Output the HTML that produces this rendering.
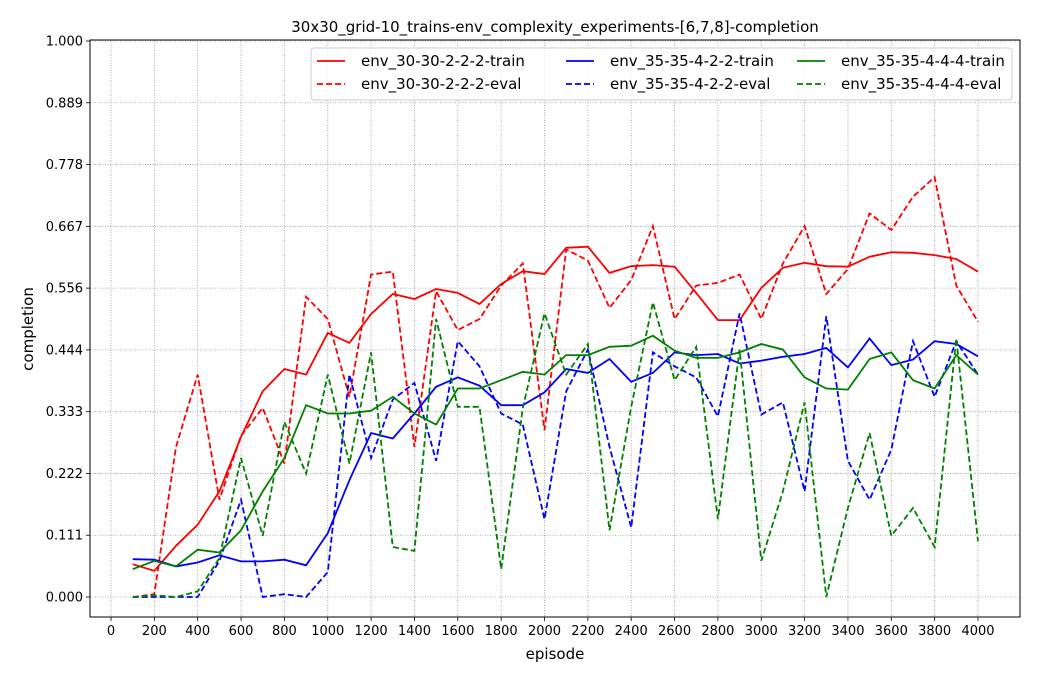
<!DOCTYPE html>
<html><head><meta charset="utf-8"><style>
body{margin:0;background:#fff;font-family:"Liberation Sans","DejaVu Sans",sans-serif}
svg text{font-family:"DejaVu Sans","Liberation Sans",sans-serif}
</style></head><body>
<svg id="chart" width="1040" height="682" xmlns="http://www.w3.org/2000/svg"></svg>
<script>
const episodes=[100,200,300,400,500,600,700,800,900,1000,1100,1200,1300,1400,1500,1600,1700,1800,1900,2000,2100,2200,2300,2400,2500,2600,2700,2800,2900,3000,3100,3200,3300,3400,3500,3600,3700,3800,3900,4000];
const redTrain=[0.059,0.047,0.092,0.13,0.19,0.288,0.37,0.41,0.40,0.475,0.457,0.509,0.545,0.536,0.554,0.547,0.527,0.563,0.586,0.581,0.628,0.63,0.583,0.595,0.597,0.594,0.547,0.498,0.498,0.556,0.592,0.601,0.595,0.594,0.612,0.62,0.619,0.615,0.608,0.585];
const redEval=[0,0.005,0.27,0.40,0.175,0.29,0.34,0.24,0.54,0.50,0.36,0.58,0.585,0.27,0.55,0.48,0.50,0.56,0.60,0.30,0.625,0.605,0.52,0.57,0.667,0.50,0.56,0.565,0.58,0.50,0.60,0.667,0.545,0.59,0.69,0.66,0.72,0.755,0.56,0.495];
const blueTrain=[0.068,0.067,0.055,0.062,0.075,0.064,0.064,0.067,0.057,0.115,0.21,0.295,0.285,0.33,0.378,0.395,0.38,0.345,0.345,0.368,0.41,0.403,0.428,0.387,0.403,0.44,0.435,0.437,0.42,0.425,0.432,0.437,0.448,0.413,0.465,0.417,0.427,0.46,0.455,0.433];
const blueEval=[0,0,0,0,0.065,0.175,0,0.005,0,0.045,0.40,0.25,0.355,0.385,0.245,0.46,0.415,0.33,0.31,0.14,0.37,0.445,0.27,0.125,0.44,0.415,0.395,0.325,0.51,0.328,0.35,0.19,0.505,0.245,0.175,0.265,0.46,0.36,0.46,0.40];
const greenTrain=[0.05,0.065,0.055,0.085,0.08,0.12,0.19,0.25,0.345,0.33,0.33,0.335,0.36,0.33,0.31,0.375,0.375,0.39,0.405,0.40,0.435,0.435,0.45,0.452,0.47,0.443,0.43,0.43,0.44,0.455,0.445,0.395,0.375,0.373,0.428,0.44,0.39,0.375,0.435,0.40];
const greenEval=[0,0.003,0,0.01,0.07,0.25,0.11,0.315,0.222,0.40,0.24,0.44,0.09,0.083,0.50,0.342,0.342,0.05,0.34,0.51,0.40,0.455,0.12,0.342,0.53,0.39,0.45,0.14,0.445,0.065,0.19,0.35,0,0.16,0.295,0.11,0.16,0.09,0.465,0.10];
const xTicks=[0,200,400,600,800,1000,1200,1400,1600,1800,2000,2200,2400,2600,2800,3000,3200,3400,3600,3800,4000];
const yTicks=[0,1/9,2/9,3/9,4/9,5/9,6/9,7/9,8/9,1];
const yTickLabels=["0.000","0.111","0.222","0.333","0.444","0.556","0.667","0.778","0.889","1.000"];
const seriesNames=["env_30-30-2-2-2-train","env_30-30-2-2-2-eval","env_35-35-4-2-2-train","env_35-35-4-2-2-eval","env_35-35-4-4-4-train","env_35-35-4-4-4-eval"];

const svg=document.getElementById('chart');
const NS='http://www.w3.org/2000/svg';
const L=90,R=1020,T=40,B=617;
const xs=v=>111+(v/4000)*(978-111);
const ys=v=>597-v*556;
function mk(tag,attrs,parent){const e=document.createElementNS(NS,tag);for(const k in attrs)e.setAttribute(k,attrs[k]);(parent||svg).appendChild(e);return e;}

const grid=mk('g',{});


xTicks.forEach((t,i)=>{
  mk('line',{x1:xs(t),x2:xs(t),y1:T,y2:B,stroke:'#999','stroke-width':0.8,'stroke-dasharray':'1,1.5'},grid);
  mk('line',{x1:xs(t),x2:xs(t),y1:B,y2:B+4,stroke:'#000','stroke-width':0.8},grid);
  const tx=mk('text',{x:xs(t),y:B+18,'text-anchor':'middle','font-size':13},grid);
  tx.textContent=t;
  
  
});
yTicks.forEach((t,i)=>{
  mk('line',{x1:L,x2:R,y1:ys(t),y2:ys(t),stroke:'#999','stroke-width':0.8,'stroke-dasharray':'1,1.5'},grid);
  mk('line',{x1:L-4,x2:L,y1:ys(t),y2:ys(t),stroke:'#000','stroke-width':0.8},grid);
  const tx=mk('text',{x:L-7,y:ys(t)+4.5,'text-anchor':'end','font-size':13},grid);
  tx.textContent=yTickLabels[i];
  
  
});
const frame=mk('rect',{x:L,y:T,width:R-L,height:B-T,fill:'none',stroke:'#000','stroke-width':1});



const data=[redTrain,redEval,blueTrain,blueEval,greenTrain,greenEval];
const colors=['#ff0000','#ff0000','#0000ff','#0000ff','#008000','#008000'];
data.forEach((arr,si)=>{
  const d=arr.map((v,i)=>(i?'L':'M')+xs(episodes[i]).toFixed(1)+','+ys(v).toFixed(1)).join(' ');
  const p=mk('path',{d:d,fill:'none',stroke:colors[si],'stroke-width':1.8,'stroke-dasharray':si%2?'6,3':'none'});
  
  
});

const title=mk('text',{x:555,y:32,'text-anchor':'middle','font-size':15});
title.textContent='30x30_grid-10_trains-env_complexity_experiments-[6,7,8]-completion';


const xl=mk('text',{x:555,y:659,'text-anchor':'middle','font-size':15});
xl.textContent='episode';


const yl=mk('text',{x:33,y:329,'text-anchor':'middle','font-size':15,transform:'rotate(-90 33 329)'});
yl.textContent='completion';



const leg=mk('g',{});


mk('rect',{x:311,y:48,width:701,height:52,rx:3,fill:'#fff','fill-opacity':0.8,stroke:'#ccc'},leg);
const colX=[317,566,797];
seriesNames.forEach((n,si)=>{
  const c=Math.floor(si/2),r=si%2;
  const y=61+r*23;
  const ln=mk('line',{x1:colX[c],x2:colX[c]+28,y1:y,y2:y,stroke:colors[si],'stroke-width':1.8,'stroke-dasharray':r?'6,3':'none'},leg);
  
  
  const t=mk('text',{x:colX[c]+44,y:y+5,'font-size':15},leg);
  t.textContent=n;
  
  
});
</script>
</body></html>
